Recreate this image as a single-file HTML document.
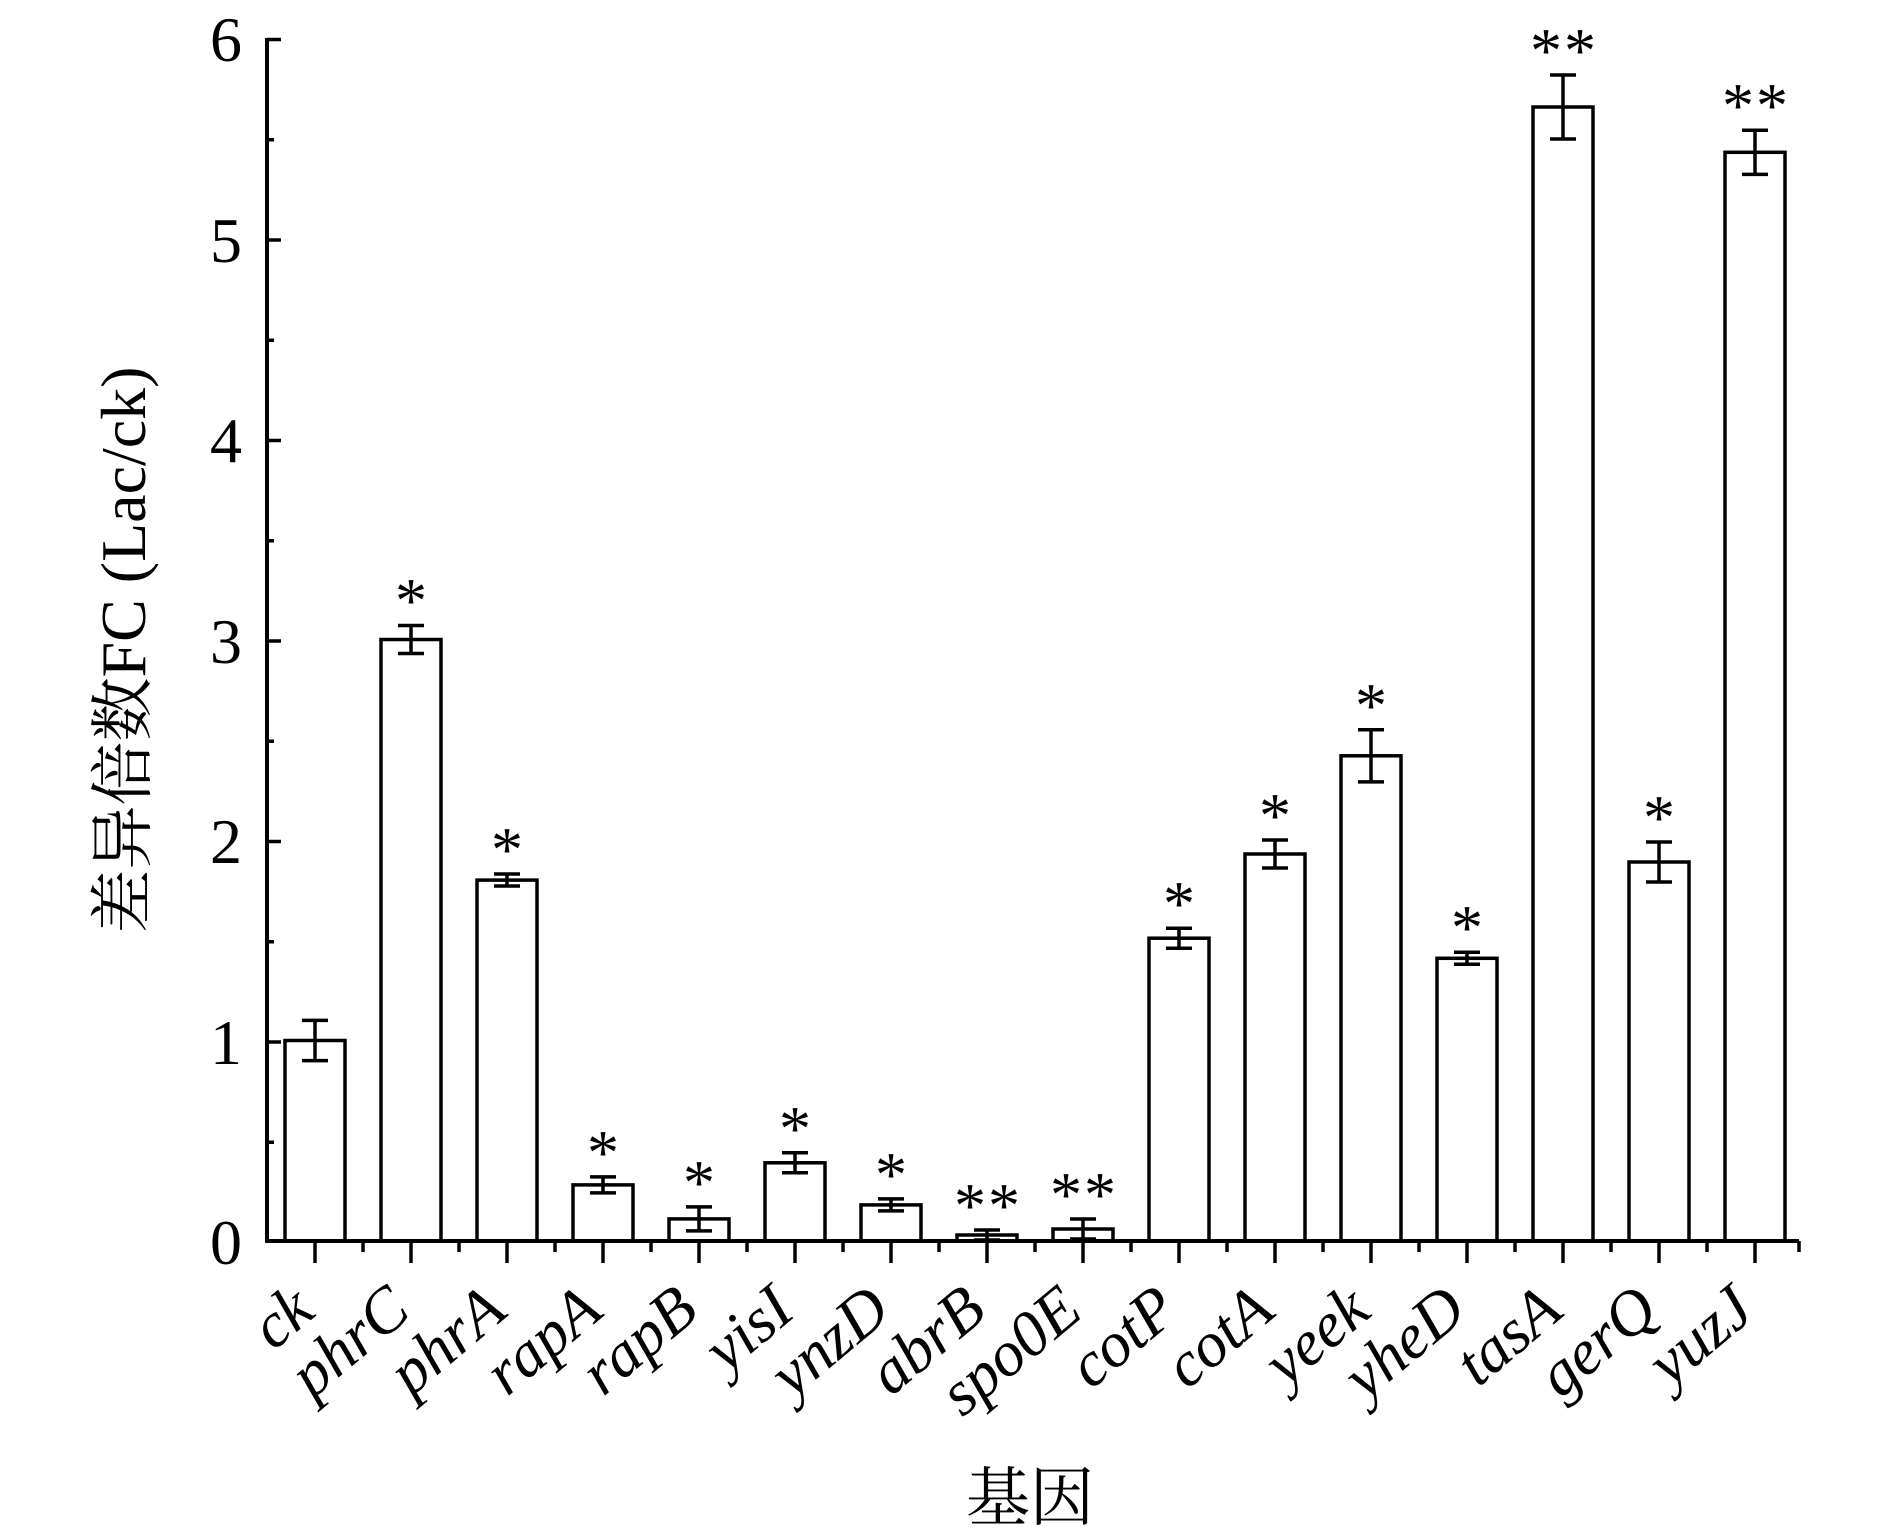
<!DOCTYPE html>
<html><head><meta charset="utf-8"><style>html,body{margin:0;padding:0;background:#fff}svg{display:block}svg text{font-family:"Liberation Serif","Times New Roman",Tinos,Times,"Noto Serif CJK SC",serif}</style></head>
<body>
<svg width="1890" height="1539" viewBox="0 0 1890 1539" xmlns="http://www.w3.org/2000/svg">
<rect width="1890" height="1539" fill="#fff"/>
<g stroke="#000" stroke-width="3.5" fill="#fff">
<rect x="285" y="1040.5" width="60" height="200.5"/>
<rect x="381" y="639.5" width="60" height="601.5"/>
<rect x="477" y="880.1" width="60" height="360.9"/>
<rect x="573" y="1184.9" width="60" height="56.1"/>
<rect x="669" y="1218.9" width="60" height="22.1"/>
<rect x="765" y="1162.8" width="60" height="78.2"/>
<rect x="861" y="1204.9" width="60" height="36.1"/>
<rect x="957" y="1235" width="60" height="6"/>
<rect x="1053" y="1229" width="60" height="12"/>
<rect x="1149" y="938.2" width="60" height="302.8"/>
<rect x="1245" y="854" width="60" height="387"/>
<rect x="1341" y="755.8" width="60" height="485.2"/>
<rect x="1437" y="958.3" width="60" height="282.7"/>
<rect x="1533" y="107" width="60" height="1134"/>
<rect x="1629" y="862" width="60" height="379"/>
<rect x="1725" y="152.3" width="60" height="1088.7"/>
</g>
<g stroke="#000" stroke-width="3.5" fill="none">
<path d="M315 1020.4V1060.6M302 1020.4H328M302 1060.6H328"/>
<path d="M411 625.5V653.5M398 625.5H424M398 653.5H424"/>
<path d="M507 874V886M494 874H520M494 886H520"/>
<path d="M603 1176.9V1192.9M590 1176.9H616M590 1192.9H616"/>
<path d="M699 1206.9V1230.9M686 1206.9H712M686 1230.9H712"/>
<path d="M795 1152.8V1172.8M782 1152.8H808M782 1172.8H808"/>
<path d="M891 1198.9V1210.9M878 1198.9H904M878 1210.9H904"/>
<path d="M987 1230V1240M974 1230H1000M974 1240H1000"/>
<path d="M1083 1219V1239M1070 1219H1096M1070 1239H1096"/>
<path d="M1179 928.2V948.2M1166 928.2H1192M1166 948.2H1192"/>
<path d="M1275 840V868M1262 840H1288M1262 868H1288"/>
<path d="M1371 729.7V781.9M1358 729.7H1384M1358 781.9H1384"/>
<path d="M1467 952.3V964.3M1454 952.3H1480M1454 964.3H1480"/>
<path d="M1563 75V139M1550 75H1576M1550 139H1576"/>
<path d="M1659 842V882M1646 842H1672M1646 882H1672"/>
<path d="M1755 130.2V174.4M1742 130.2H1768M1742 174.4H1768"/>
<path d="M267 38V1242.5M265.5 1241H1799" stroke-width="4"/>
<path d="M267 39.5H281M267 240H281M267 440.5H281M267 641H281M267 841.5H281M267 1042H281"/>
<path d="M267 139.8H274M267 340.3H274M267 540.8H274M267 741.3H274M267 941.8H274M267 1142.3H274"/>
<path d="M315 1241v22M411 1241v22M507 1241v22M603 1241v22M699 1241v22M795 1241v22M891 1241v22M987 1241v22M1083 1241v22M1179 1241v22M1275 1241v22M1371 1241v22M1467 1241v22M1563 1241v22M1659 1241v22M1755 1241v22"/>
<path d="M363 1241v11M459 1241v11M555 1241v11M651 1241v11M747 1241v11M843 1241v11M939 1241v11M1035 1241v11M1131 1241v11M1227 1241v11M1323 1241v11M1419 1241v11M1515 1241v11M1611 1241v11M1707 1241v11M1799 1241v11"/>
</g>
<g font-size="64" text-anchor="end" fill="#000">
<text x="242" y="61">6</text>
<text x="242" y="262">5</text>
<text x="242" y="462">4</text>
<text x="242" y="663">3</text>
<text x="242" y="863">2</text>
<text x="242" y="1064">1</text>
<text x="242" y="1264">0</text>
</g>
<g font-size="64" text-anchor="middle" fill="#000">
<text x="411" y="622">*</text>
<text x="507" y="871">*</text>
<text x="603" y="1174">*</text>
<text x="699" y="1204">*</text>
<text x="795" y="1150">*</text>
<text x="891" y="1196">*</text>
<text x="970" y="1227">*</text><text x="1004" y="1227">*</text>
<text x="1066" y="1216">*</text><text x="1100" y="1216">*</text>
<text x="1179" y="925">*</text>
<text x="1275" y="837">*</text>
<text x="1371" y="727">*</text>
<text x="1467" y="949">*</text>
<text x="1546" y="72">*</text><text x="1580" y="72">*</text>
<text x="1659" y="839">*</text>
<text x="1738" y="127">*</text><text x="1772" y="127">*</text>
</g>
<g font-size="64" font-style="italic" text-anchor="end" fill="#000">
<text transform="translate(317,1315) rotate(-40)">ck</text>
<text transform="translate(413,1315) rotate(-40)">phrC</text>
<text transform="translate(509,1315) rotate(-40)">phrA</text>
<text transform="translate(605,1315) rotate(-40)">rapA</text>
<text transform="translate(701,1315) rotate(-40)">rapB</text>
<text transform="translate(797,1315) rotate(-40)">yisI</text>
<text transform="translate(893,1315) rotate(-40)">ynzD</text>
<text transform="translate(989,1315) rotate(-40)">abrB</text>
<text transform="translate(1085,1315) rotate(-40)">spo0E</text>
<text transform="translate(1181,1315) rotate(-40)">cotP</text>
<text transform="translate(1277,1315) rotate(-40)">cotA</text>
<text transform="translate(1373,1315) rotate(-40)">yeek</text>
<text transform="translate(1469,1315) rotate(-40)">yheD</text>
<text transform="translate(1565,1315) rotate(-40)">tasA</text>
<text transform="translate(1661,1315) rotate(-40)">gerQ</text>
<text transform="translate(1757,1315) rotate(-40)">yuzJ</text>
</g>
<text transform="translate(145,650) rotate(-90)" font-size="64" text-anchor="middle" fill="#000">差异倍数FC (Lac/ck)</text>
<text x="1030" y="1520" font-size="64" text-anchor="middle" fill="#000">基因</text>
</svg>
</body></html>
